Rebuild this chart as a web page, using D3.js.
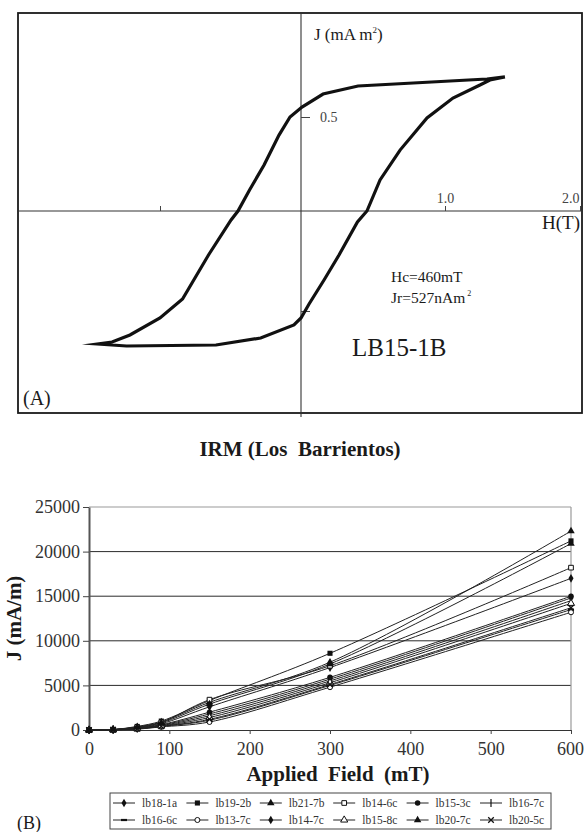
<!DOCTYPE html>
<html>
<head>
<meta charset="utf-8">
<script src="https://cdn.jsdelivr.net/npm/d3@7"></script>
<style>
  body { margin: 0; background: #fff; }
</style>
</head>
<body>
<svg id="chart" width="584" height="832"></svg>
<script>
// ---- panel A: hysteresis loop (H in T, J in mA m2) ----
const loopUpperH = [1.444, 1.311, 0.396, 0.153, 0.007, -0.078, -0.156, -0.262, -0.365, -0.447, -0.496, -0.656, -0.840, -1.0, -1.213, -1.34, -1.443];
const loopUpperJ = [0.713, 0.702, 0.665, 0.622, 0.553, 0.5, 0.404, 0.245, 0.112, 0, -0.045, -0.22, -0.44, -0.535, -0.62, -0.655, -0.665];
const loopLowerH = [-1.443, -1.237, -0.603, -0.286, -0.05, 0, 0.056, 0.16, 0.264, 0.392, 0.458, 0.549, 0.688, 0.875, 1.059, 1.259, 1.333, 1.444];
const loopLowerJ = [-0.665, -0.675, -0.67, -0.635, -0.57, -0.535, -0.465, -0.345, -0.22, -0.055, 0, 0.165, 0.324, 0.495, 0.601, 0.670, 0.697, 0.713];
const hTicks = [-1, 1, 2];
const hTickLabels = ["", "1.0", "2.0"];
const jTicks = [-0.5, 0.5];
const jTickLabels = ["", "0.5"];

// ---- panel B: IRM acquisition ----
const fieldMT = [0, 30, 60, 90, 150, 300, 600];
const seriesNames = ["lb18-1a", "lb19-2b", "lb21-7b", "lb14-6c", "lb15-3c", "lb16-7c",
                     "lb16-6c", "lb13-7c", "lb14-7c", "lb15-8c", "lb20-7c", "lb20-5c"];
const lb18_1a = [0, 40, 250, 700, 2600, 7000, 17000];
const lb19_2b = [0, 50, 400, 1000, 3300, 8600, 21200];
const lb21_7b = [0, 50, 350, 900, 3100, 7600, 22300];
const lb14_6c = [0, 40, 300, 850, 3400, 7200, 18200];
const lb15_3c = [0, 30, 200, 600, 2000, 5900, 15000];
const lb16_7c = [0, 30, 180, 500, 1600, 5500, 14500];
const lb16_6c = [0, 20, 120, 400, 1100, 5000, 13500];
const lb13_7c = [0, 20, 100, 350, 900, 4800, 13200];
const lb14_7c = [0, 30, 200, 550, 1800, 5700, 14800];
const lb15_8c = [0, 20, 150, 450, 1400, 5300, 14200];
const lb20_7c = [0, 50, 300, 800, 2900, 7400, 20900];
const lb20_5c = [0, 20, 150, 420, 1200, 5100, 13700];
const seriesValues = [lb18_1a, lb19_2b, lb21_7b, lb14_6c, lb15_3c, lb16_7c,
                      lb16_6c, lb13_7c, lb14_7c, lb15_8c, lb20_7c, lb20_5c];
const fieldTicks = [0, 100, 200, 300, 400, 500, 600];
const jTicksB = [0, 5000, 10000, 15000, 20000, 25000];

// marker style per series (same order as names)
const markerKinds = ["diamond", "square", "triangle", "squareOpen", "circle", "vbar",
                     "hbar", "circleOpen", "diamond", "triangleOpen", "triangle", "times"];

const FONT = "'Times New Roman', 'Liberation Serif', Times, 'DejaVu Serif', serif";
const svg = d3.select("#chart").attr("font-family", FONT);
const ink = "#1a1a1a";

// =============== panel A ===============
const hx = d3.scaleLinear().domain([-2, -1, 0, 1, 2]).range([19, 160, 301, 445, 580]);
const jy = d3.scaleLinear().domain([-0.5, 0, 0.5]).range([311, 211, 117]);

const gA = svg.append("g");
gA.append("rect")
  .attr("x", 18).attr("y", 13).attr("width", 564).attr("height", 400)
  .attr("fill", "none").attr("stroke", ink).attr("stroke-width", 1.8);

// axis lines through the origin
gA.append("line")
  .attr("x1", 18).attr("x2", 582).attr("y1", jy(0)).attr("y2", jy(0))
  .attr("stroke", "#333").attr("stroke-width", 1.1);
gA.append("line")
  .attr("x1", hx(0)).attr("x2", hx(0)).attr("y1", 13).attr("y2", 417)
  .attr("stroke", "#333").attr("stroke-width", 1.1);

const hAxis = gA.append("g")
  .attr("transform", "translate(0," + jy(0) + ")")
  .call(d3.axisTop(hx).tickValues(hTicks).tickSize(5).tickPadding(3).tickSizeOuter(0)
        .tickFormat((d, i) => hTickLabels[i]));
hAxis.select(".domain").remove();
// last label sits flush against the frame
hAxis.selectAll(".tick text").filter(d => d === 2).attr("text-anchor", "end").attr("dx", -1);

const jAxis = gA.append("g")
  .attr("transform", "translate(" + hx(0) + ",0)")
  .call(d3.axisRight(jy).tickValues(jTicks).tickSize(9).tickPadding(10).tickSizeOuter(0)
        .tickFormat((d, i) => jTickLabels[i]));
jAxis.select(".domain").remove();

[hAxis, jAxis].forEach(a => {
  a.attr("font-family", FONT);
  a.selectAll(".tick line").attr("stroke", "#444");
  a.selectAll(".tick text").attr("fill", "#444").attr("font-size", 14);
});

// the loop
const loopPts = loopUpperH.map((h, i) => [h, loopUpperJ[i]])
  .concat(loopLowerH.map((h, i) => [h, loopLowerJ[i]]).slice(1));
gA.append("path")
  .datum(loopPts)
  .attr("fill", "none").attr("stroke", "#111").attr("stroke-width", 3.2)
  .attr("stroke-linejoin", "miter").attr("stroke-miterlimit", 10)
  .attr("d", d3.line().x(d => hx(d[0])).y(d => jy(d[1])));

// labels
const jLab = gA.append("text").attr("x", 314).attr("y", 40)
  .attr("font-size", 17).attr("fill", ink);
jLab.append("tspan").text("J (mA m");
jLab.append("tspan").attr("font-size", 9).attr("dy", -7).text("2");
jLab.append("tspan").attr("dy", 7).text(")");

gA.append("text").attr("x", 580).attr("y", 229).attr("text-anchor", "end")
  .attr("font-size", 19).attr("fill", ink).text("H(T)");

gA.append("text").attr("x", 391).attr("y", 282)
  .attr("font-size", 15.5).attr("fill", ink).text("Hc=460mT");
const jr = gA.append("text").attr("x", 391).attr("y", 303)
  .attr("font-size", 15.5).attr("fill", ink);
jr.append("tspan").text("Jr=527nAm");
jr.append("tspan").attr("font-size", 8).attr("dy", -7).attr("dx", 2).text("2");

gA.append("text").attr("x", 352).attr("y", 356)
  .attr("font-size", 25).attr("fill", ink).text("LB15-1B");

gA.append("text").attr("x", 23).attr("y", 405)
  .attr("font-size", 20).attr("fill", ink).text("(A)");

// =============== panel B ===============
svg.append("text").attr("x", 300).attr("y", 456).attr("text-anchor", "middle")
  .attr("font-size", 21).attr("font-weight", "bold").attr("fill", ink)
  .attr("xml:space", "preserve").text("IRM (Los  Barrientos)");

const x = d3.scaleLinear().domain([0, 600]).range([89, 571]);
const y = d3.scaleLinear().domain([0, 25000]).range([730, 507]);

const gB = svg.append("g");

// gridlines
gB.selectAll("line.grid")
  .data(jTicksB.filter(v => v > 0 && v < 25000))
  .enter().append("line")
  .attr("class", "grid")
  .attr("x1", x(0)).attr("x2", x(600))
  .attr("y1", d => y(d)).attr("y2", d => y(d))
  .attr("stroke", "#2a2a2a").attr("stroke-width", 1);

// plot area frame (top and right, light grey)
gB.append("line").attr("x1", x(0)).attr("x2", x(600)).attr("y1", y(25000)).attr("y2", y(25000))
  .attr("stroke", "#9a9a9a").attr("stroke-width", 1.2);
gB.append("line").attr("x1", x(600)).attr("x2", x(600)).attr("y1", y(25000)).attr("y2", y(0))
  .attr("stroke", "#9a9a9a").attr("stroke-width", 1.2);

const yAxis = gB.append("g")
  .attr("transform", "translate(" + x(0) + ",0)")
  .call(d3.axisLeft(y).tickValues(jTicksB).tickSize(6).tickPadding(3).tickSizeOuter(0)
        .tickFormat(d3.format("d")));
const xAxis = gB.append("g")
  .attr("transform", "translate(0," + y(0) + ")")
  .call(d3.axisBottom(x).tickValues(fieldTicks).tickSize(4).tickPadding(8).tickSizeOuter(0)
        .tickFormat(d3.format("d")));
yAxis.select(".domain").attr("stroke", "#555").attr("stroke-width", 2);
xAxis.select(".domain").attr("stroke", "#333").attr("stroke-width", 1.2);
[xAxis, yAxis].forEach(a => {
  a.attr("font-family", FONT);
  a.selectAll(".tick line").attr("stroke", "#444");
  a.selectAll(".tick text").attr("fill", "#333").attr("font-size", 18);
});
// keep the right-most label inside the page
xAxis.selectAll(".tick text").filter(d => d === 600).attr("dx", -1);

svg.append("text")
  .attr("transform", "translate(21," + ((y(0) + y(25000)) / 2) + ") rotate(-90)")
  .attr("text-anchor", "middle").attr("font-size", 21).attr("font-weight", "bold")
  .attr("fill", ink).text("J (mA/m)");
svg.append("text").attr("x", 338).attr("y", 781).attr("text-anchor", "middle")
  .attr("font-size", 21).attr("font-weight", "bold").attr("fill", ink)
  .attr("xml:space", "preserve").text("Applied  Field  (mT)");

// series lines
const line = d3.line()
  .curve(d3.curveCatmullRom.alpha(0.5))
  .x((d, i) => x(fieldMT[i]))
  .y(d => y(d));

gB.selectAll("path.series")
  .data(seriesValues)
  .enter().append("path")
  .attr("class", "series")
  .attr("fill", "none").attr("stroke", "#222").attr("stroke-width", 1)
  .attr("d", line);

// marker drawing helper
function drawMarker(g, kind) {
  const sym = (type, size) => d3.symbol().type(type).size(size)();
  if (kind === "diamond") {
    g.append("path").attr("d", sym(d3.symbolDiamond, 22)).attr("fill", "#111");
  } else if (kind === "square") {
    g.append("path").attr("d", sym(d3.symbolSquare, 26)).attr("fill", "#111");
  } else if (kind === "squareOpen") {
    g.append("path").attr("d", sym(d3.symbolSquare, 22)).attr("fill", "#fff")
      .attr("stroke", "#111").attr("stroke-width", 1);
  } else if (kind === "triangle") {
    g.append("path").attr("d", sym(d3.symbolTriangle, 24)).attr("fill", "#111");
  } else if (kind === "triangleOpen") {
    g.append("path").attr("d", sym(d3.symbolTriangle, 22)).attr("fill", "#fff")
      .attr("stroke", "#111").attr("stroke-width", 1);
  } else if (kind === "circle") {
    g.append("path").attr("d", sym(d3.symbolCircle, 24)).attr("fill", "#111");
  } else if (kind === "circleOpen") {
    g.append("path").attr("d", sym(d3.symbolCircle, 20)).attr("fill", "#fff")
      .attr("stroke", "#111").attr("stroke-width", 1);
  } else if (kind === "vbar") {
    g.append("path").attr("d", "M0,-4V4").attr("stroke", "#111").attr("stroke-width", 1.2);
  } else if (kind === "hbar") {
    g.append("path").attr("d", "M-3,0H3").attr("stroke", "#111").attr("stroke-width", 2.2);
  } else if (kind === "times") {
    g.append("path").attr("d", sym(d3.symbolTimes, 22)).attr("fill", "none")
      .attr("stroke", "#111").attr("stroke-width", 1.3);
  }
}

seriesValues.forEach((vals, s) => {
  vals.forEach((v, i) => {
    const m = gB.append("g").attr("transform", "translate(" + x(fieldMT[i]) + "," + y(v) + ")");
    drawMarker(m, markerKinds[s]);
  });
});

// legend
const gL = svg.append("g");
gL.append("rect").attr("x", 110).attr("y", 793).attr("width", 441).attr("height", 36)
  .attr("fill", "#fff").attr("stroke", "#444").attr("stroke-width", 1);
const legCol = d3.scaleLinear().domain([0, 5]).range([113, 480]);
const legRow = d3.scaleLinear().domain([0, 1]).range([803, 820]);
seriesNames.forEach((name, i) => {
  const gx = legCol(i % 6), gy = legRow(Math.floor(i / 6));
  const item = gL.append("g").attr("transform", "translate(" + gx + "," + gy + ")");
  item.append("line").attr("x1", 0).attr("x2", 22).attr("y1", 0).attr("y2", 0)
    .attr("stroke", "#222").attr("stroke-width", 1);
  drawMarker(item.append("g").attr("transform", "translate(11,0)"), markerKinds[i]);
  item.append("text").attr("x", 29).attr("y", 4).attr("font-size", 11.5)
    .attr("fill", "#333").text(name);
});

svg.append("text").attr("x", 17).attr("y", 829)
  .attr("font-size", 18).attr("fill", ink).text("(B)");
</script>
</body>
</html>
